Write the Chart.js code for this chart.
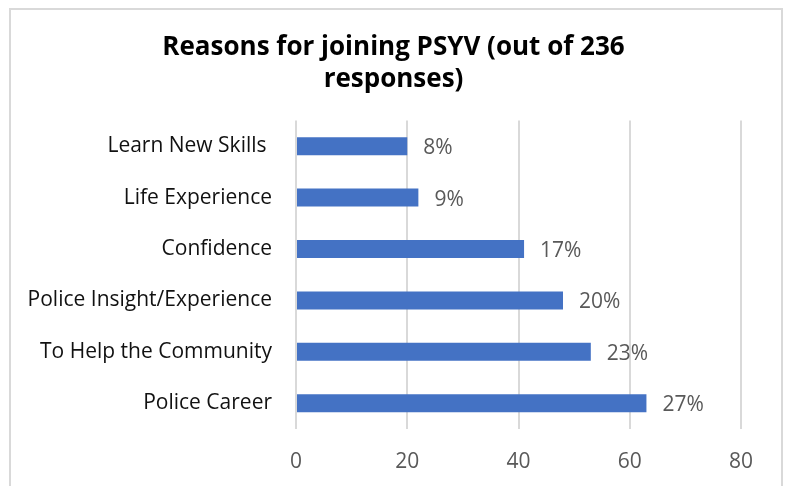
<!DOCTYPE html>
<html>
<head>
<meta charset="utf-8">
<script src="https://cdn.jsdelivr.net/npm/chart.js"></script>
<style>
body { margin: 0; background: #fff; }
#wrap { position: relative; width: 787px; height: 486px; overflow: hidden; }
#frame { position: absolute; left: 9px; top: 8px; width: 774px; height: 520px; border: 2px solid #d9d9d9; border-bottom: none; box-sizing: border-box; }
canvas { position: absolute; left: 0; top: 0; }
</style>
</head>
<body>
<div id="wrap">
  <div id="frame"></div>
  <canvas id="myChart"></canvas>
</div>
<script>
const reasons = ['Learn New Skills ', 'Life Experience', 'Confidence', 'Police Insight/Experience', 'To Help the Community', 'Police Career'];
const responses = [20, 22, 41, 48, 53, 63];
const pctLabels = ['8%', '9%', '17%', '20%', '23%', '27%'];
const titleLines = ['Reasons for joining PSYV (out of 236', 'responses)'];

const ctx = document.getElementById('myChart');

// percent labels to the right of each bar
const barLabels = {
  id: 'barLabels',
  afterDatasetsDraw(chart) {
    const c = chart.ctx;
    const meta = chart.getDatasetMeta(0);
    c.save();
    c.font = '21px "Open Sans"';
    c.fillStyle = '#595959';
    c.textAlign = 'left';
    c.textBaseline = 'middle';
    meta.data.forEach((bar, i) => {
      c.fillText(pctLabels[i], bar.x + 16, bar.y + 2);
    });
    c.restore();
  }
};

new Chart(ctx, {
  type: 'bar',
  data: {
    labels: reasons,
    datasets: [{
      data: responses,
      backgroundColor: '#4472C4',
      borderWidth: 0,
      categoryPercentage: 1,
      barPercentage: 0.35
    }]
  },
  options: {
    indexAxis: 'y',
    responsive: true,
    maintainAspectRatio: false,
    animation: false,
    layout: { padding: 0 },
    plugins: {
      legend: { display: false },
      tooltip: { enabled: false },
      title: {
        display: true,
        text: titleLines,
        color: '#000',
        font: { family: 'Open Sans', size: 26, weight: 'bold', lineHeight: 1.24 },
        padding: { top: 31, bottom: 25 }
      }
    },
    scales: {
      x: {
        min: 0,
        max: 80,
        afterFit(scale) { scale.height = 57; },
        ticks: { stepSize: 20, color: '#595959', padding: 20, font: { family: 'Open Sans', size: 21 } },
        grid: { color: '#d9d9d9', lineWidth: 2, drawTicks: false },
        border: { display: false }
      },
      y: {
        afterFit(scale) { scale.width = 296; },
        ticks: { color: '#111', padding: 24, font: { family: 'Open Sans', size: 21 } },
        grid: { display: false, drawTicks: false },
        border: { display: false }
      },
      // empty right-hand strip so the plot ends at 80 with room for labels
      yRight: {
        type: 'category',
        position: 'right',
        afterFit(scale) { scale.width = 46; },
        ticks: { display: false },
        grid: { display: false, drawTicks: false },
        border: { display: false }
      }
    }
  },
  plugins: [barLabels]
});
</script>
</body>
</html>
